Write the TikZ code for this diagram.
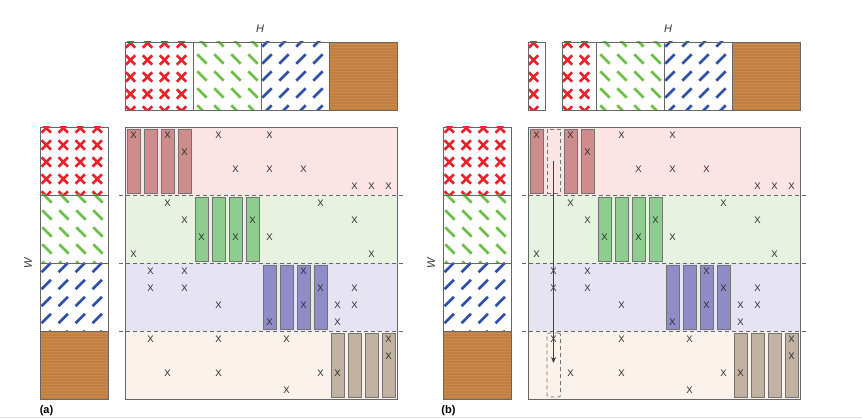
\documentclass[tikz,border=0pt]{standalone}
\usepackage{fontspec}
\setmainfont{Liberation Sans}
\usetikzlibrary{arrows.meta}
\definecolor{crossred}{HTML}{E8232B}
\definecolor{dashgreen}{HTML}{6CBF45}
\definecolor{dashblue}{HTML}{2F4FA8}
\definecolor{brownfill}{HTML}{C17F41}
\definecolor{brownstripe}{HTML}{C88A4F}
\definecolor{bandred}{HTML}{FCE4E4}
\definecolor{bandgreen}{HTML}{E7F2E1}
\definecolor{bandblue}{HTML}{E6E4F3}
\definecolor{bandbeige}{HTML}{FAF2EB}
\definecolor{barred}{HTML}{CF8C8C}
\definecolor{bargreen}{HTML}{8FCC8F}
\definecolor{barblue}{HTML}{8F8CC8}
\definecolor{bartaupe}{HTML}{C2B2A2}
\definecolor{edgegray}{HTML}{666666}
\definecolor{markgray}{HTML}{2A2A2A}
\tikzset{
  vecbox/.style={draw=edgegray, line width=0.9pt},
  mbox/.style={draw=edgegray, line width=0.9pt},
  barbox/.style={draw=black!55, line width=0.8pt},
  dashbar/.style={draw=black!55, line width=0.8pt, dash pattern=on 4pt off 3pt},
  sepline/.style={draw=black!60, line width=0.8pt, dash pattern=on 4pt off 3pt},
  crossmark/.style={draw=crossred, line width=2.7pt},
  xm/.style={font=\fontsize{9.5}{9.5}\selectfont, text=markgray, inner sep=0pt},
  lab/.style={font=\fontsize{11}{11}\selectfont\itshape, text=black!80, inner sep=0pt},
  panlab/.style={font=\fontsize{11}{11}\selectfont\bfseries, inner sep=0pt},
  flow/.style={draw=black!75, line width=0.8pt, -{Stealth[length=6pt,width=5pt]}}
}
% #1 x0, #2 y0, #3 w, #4 h, #5 x offset
\newcommand\crossblock[5]{%
  \begin{scope}
    \clip (#1,#2) rectangle ++(#3,#4);
    \fill[white] (#1,#2) rectangle ++(#3,#4);
    \foreach \i in {0,...,4}{\foreach \j in {0,...,4}{
      \draw[crossmark] ({#1+#5+17*\i-4.7},{#2+1+17*\j-4.7}) -- ++(9.4,9.4)
                       ({#1+#5+17*\i-4.7},{#2+1+17*\j+4.7}) -- ++(9.4,-9.4);
    }}
  \end{scope}
  \draw[vecbox] (#1,#2) rectangle ++(#3,#4);
}
% #1 x0, #2 y0, #3 w, #4 h, #5 x off, #6 y off, #7 colour, #8 direction
\newcommand\dashblock[8]{%
  \begin{scope}
    \clip (#1,#2) rectangle ++(#3,#4);
    \fill[white] (#1,#2) rectangle ++(#3,#4);
    \foreach \i in {0,...,4}{\foreach \j in {0,...,4}{
      \draw[#7, line width=2.7pt] ({#1+#5+17*\i-4.7},{#2+#6+17*\j-4.7*#8}) -- ++(9.4,{9.4*#8});
    }}
  \end{scope}
  \draw[vecbox] (#1,#2) rectangle ++(#3,#4);
}
\newcommand\brownblock[4]{%
  \fill[brownfill] (#1,#2) rectangle ++(#3,#4);
  \foreach \s in {2,5,...,66}{\draw[brownstripe, line width=0.5pt] (#1,{#2+\s}) -- ++(#3,0);}
  \draw[vecbox] (#1,#2) rectangle ++(#3,#4);
}
% #1 MX, #2 tag, #3 skipped column in band 0
\newcommand\drawmatrix[3]{%
  \foreach \b/\bc in {0/bandred,1/bandgreen,2/bandblue,3/bandbeige}{
    \fill[\bc] (#1,{127+68*\b}) rectangle ++(272,68);
  }
  \foreach \yy in {195,263,331}{\draw[sepline] ({#1-6},\yy) -- ({#1+280},\yy);}
  \foreach \b/\barc in {0/barred,1/bargreen,2/barblue,3/bartaupe}{
    \foreach \k in {0,...,3}{
      \pgfmathtruncatemacro\cc{4*\b+\k}
      \ifnum\cc=#3\relax\else
        \draw[barbox, fill=\barc] ({#1+17*\cc+2},{127+68*\b+2}) rectangle ++(13.5,64);
      \fi
    }
  }
  \draw[mbox] (#1,127) rectangle ++(272,272);
  \foreach \r/\cs in {0/{0,2,5,8},1/{3},2/{6,8,10},3/{13,14,15},4/{2,11},5/{3,7,13},
      6/{4,6,8},7/{0,14},8/{1,3,10},9/{1,3,11,13},10/{5,10,12,13},11/{8,12},
      12/{1,5,9,15},13/{15},14/{2,5,11,12},15/{9}}{
    \foreach \c in \cs {
      \node[xm] (#2x\r-\c) at ({#1+17*\c+8.5},{127+17*\r+8.5}) {X};
    }
  }
}
\begin{document}
\begin{tikzpicture}[x=1pt,y=-1pt]
\useasboundingbox (0,0) rectangle (862,419);
\draw[black!12, line width=0.8pt] (0,417) -- (862,417);

% ---------- panel (a) ----------
\node[lab] (Ha) at (260,29) {H};
\crossblock{125}{42}{68}{68}{5.5}
\dashblock{193}{42}{68}{68}{9}{0}{dashgreen}{1}
\dashblock{261}{42}{68}{68}{6}{0}{dashblue}{-1}
\brownblock{329}{42}{68}{68}

\node[lab, rotate=90] (Wa) at (28,263) {W};
\crossblock{40}{127}{68}{68}{6.3}
\dashblock{40}{195}{68}{68}{7}{3}{dashgreen}{1}
\dashblock{40}{263}{68}{68}{6.3}{4.5}{dashblue}{-1}
\brownblock{40}{331}{68}{68}

\drawmatrix{125}{a}{-1}
\node[panlab] (pa) at (46.5,411) {(a)};

% ---------- panel (b) ----------
\node[lab] (Hb) at (668,29) {H};
\crossblock{528}{42}{17}{68}{5.5}
\crossblock{562}{42}{34}{68}{5.5}
\dashblock{596}{42}{68}{68}{9}{0}{dashgreen}{1}
\dashblock{664}{42}{68}{68}{6}{0}{dashblue}{-1}
\brownblock{732}{42}{68}{68}

\node[lab, rotate=90] (Wb) at (431,263) {W};
\crossblock{443}{127}{68}{68}{6.3}
\dashblock{443}{195}{68}{68}{7}{3}{dashgreen}{1}
\dashblock{443}{263}{68}{68}{6.3}{4.5}{dashblue}{-1}
\brownblock{443}{331}{68}{68}

\drawmatrix{528}{b}{1}
\node[dashbar, draw, minimum width=13.5pt, minimum height=64pt, inner sep=0pt] (gone) at (553.75,161) {};
\node[dashbar, draw, rounded corners=2pt, minimum width=13.5pt, minimum height=64pt, inner sep=0pt] (dest) at (553.75,365) {};
\coordinate (arrs) at (553.5,161);
\coordinate (arre) at (553.5,363);
\draw[flow] (arrs) -- (arre);
\node[panlab] (pb) at (448.5,411) {(b)};
\end{tikzpicture}
\end{document}
